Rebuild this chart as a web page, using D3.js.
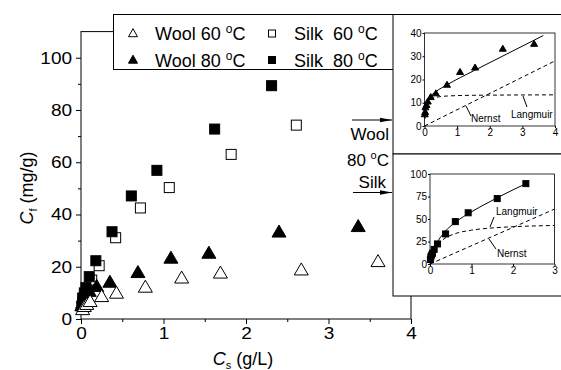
<!DOCTYPE html>
<html>
<head>
<meta charset="utf-8">
<script src="https://cdn.jsdelivr.net/npm/d3@7"></script>
<style>
  body { margin: 0; background: #fff; }
  svg { display: block; font-family: "Liberation Sans", Arial, sans-serif; }
  .axis path, .axis line { stroke: #000; }
  .axis text { fill: #000; }
</style>
</head>
<body>
<div id="app"></div>
<script>
// ---- data ----
const wool60Cs = [0.02, 0.04, 0.07, 0.11, 0.25, 0.43, 0.78, 1.22, 1.69, 2.67, 3.6];
const wool60Cf = [3.5, 4.7, 5.5, 6.6, 8.5, 9.8, 12.1, 15.6, 17.5, 18.7, 21.9];
const wool80Cs = [0.01, 0.02, 0.03, 0.06, 0.1, 0.19, 0.35, 0.69, 1.09, 1.55, 2.4, 3.36];
const wool80Cf = [5, 6, 8, 9, 10.5, 12.4, 14.0, 17.7, 23.2, 25.1, 33.2, 35.3];
const silk60Cs = [0.02, 0.04, 0.07, 0.13, 0.22, 0.42, 0.72, 1.07, 1.82, 2.61];
const silk60Cf = [6, 8, 11, 14.9, 20.4, 31.1, 42.5, 50.3, 63, 74.2];
const silk80Cs = [0.01, 0.02, 0.04, 0.06, 0.1, 0.18, 0.376, 0.61, 0.92, 1.62, 2.31];
const silk80Cf = [5, 8, 10, 12, 16.2, 22.3, 33.4, 47.1, 56.9, 72.7, 89.3];

// fitted curves in the insets
const woolFitCs = [0.01, 0.03, 0.06, 0.1, 0.2, 0.35, 0.7, 1.5, 2.5, 3.64];
const woolFitCf = [3.2, 6.6, 9.1, 10.8, 13, 14.8, 17.8, 23.7, 30.8, 38.9];
const woolLangCs = [0.01, 0.03, 0.06, 0.1, 0.2, 0.35, 0.7, 1.5, 4];
const woolLangCf = [3, 6.4, 8.7, 10, 11.6, 12.3, 12.9, 13.2, 13.4];
const woolNernstCs = [0, 4];
const woolNernstCf = [0, 28];
const silkFitCs = [0, 0.05, 0.1, 0.2, 0.36, 0.6, 1, 1.4, 2, 2.3];
const silkFitCf = [0, 9.4, 16.3, 25.9, 36, 45.9, 58, 68.2, 82.4, 89];
const silkLangCs = [0, 0.05, 0.1, 0.2, 0.36, 0.6, 1, 1.4, 2, 3];
const silkLangCf = [0, 8.4, 14.3, 21.8, 28.6, 33.6, 37.6, 39.7, 41.4, 42.8];
const silkNernstCs = [0, 3];
const silkNernstCf = [0, 61];

const mainXTicks = [0, 1, 2, 3, 4];
const mainYTicks = [0, 20, 40, 60, 80, 100];
const inset1XTicks = [0, 1, 2, 3, 4];
const inset1YTicks = [0, 10, 20, 30, 40];
const inset2XTicks = [0, 1, 2, 3];
const inset2YTicks = [0, 25, 50, 75, 100];

const zip = (a, b) => a.map((v, i) => [v, b[i]]);

const svg = d3.select("#app").append("svg").attr("width", 561).attr("height", 370);

// ---- main plot ----
const x = d3.scaleLinear().domain([0, 4]).range([81, 411]);
const y = d3.scaleLinear().domain([0, 110]).range([319, 31.6]);

const main = svg.append("g");

main.append("rect")
  .attr("x", x(0)).attr("y", y(110))
  .attr("width", x(4) - x(0)).attr("height", y(0) - y(110))
  .attr("fill", "none").attr("stroke", "#000");

// minor ticks
main.append("g").attr("class", "axis")
  .attr("transform", `translate(0,${y(0)})`)
  .call(d3.axisBottom(x).tickValues(d3.range(0.5, 4, 1)).tickSize(3).tickFormat(""))
  .select(".domain").remove();
main.append("g").attr("class", "axis")
  .attr("transform", `translate(${x(0)},0)`)
  .call(d3.axisLeft(y).tickValues(d3.range(10, 110, 20)).tickSize(3).tickFormat(""))
  .select(".domain").remove();

const xAxis = main.append("g").attr("class", "axis")
  .attr("transform", `translate(0,${y(0)})`)
  .call(d3.axisBottom(x).tickValues(mainXTicks).tickSize(5).tickPadding(3).tickFormat(d3.format("d")));
xAxis.selectAll("text").attr("font-size", 17).attr("transform", "scale(1.12,1)");
xAxis.select(".domain").remove();

const yAxis = main.append("g").attr("class", "axis")
  .attr("transform", `translate(${x(0)},0)`)
  .call(d3.axisLeft(y).tickValues(mainYTicks).tickSize(5).tickPadding(3).tickFormat(d3.format("d")));
yAxis.selectAll("text").attr("font-size", 17).attr("transform", "scale(1.12,1)");
yAxis.select(".domain").remove();

// axis titles
const yt = main.append("text")
  .attr("transform", "translate(33,188) rotate(-90)")
  .attr("text-anchor", "middle").attr("font-size", 18);
yt.append("tspan").attr("font-style", "italic").text("C");
yt.append("tspan").attr("font-size", 11).attr("dy", 4).text("f");
yt.append("tspan").attr("dy", -4).text(" (mg/g)");

const xt = main.append("text")
  .attr("x", 243).attr("y", 365)
  .attr("text-anchor", "middle").attr("font-size", 18);
xt.append("tspan").attr("font-style", "italic").text("C");
xt.append("tspan").attr("font-size", 11).attr("dy", 4).text("s");
xt.append("tspan").attr("dy", -4).text(" (g/L)");

const tri = (cx, cy, w, h) =>
  `M${cx},${cy - h * 0.6}L${cx + w / 2},${cy + h * 0.4}L${cx - w / 2},${cy + h * 0.4}Z`;

function squares(g, xs, ys, data, size, filled) {
  g.selectAll(null).data(data).enter().append("rect")
    .attr("x", d => xs(d[0]) - size / 2).attr("y", d => ys(d[1]) - size / 2)
    .attr("width", size).attr("height", size)
    .attr("fill", filled ? "#000" : "#fff").attr("stroke", "#000").attr("stroke-width", 1);
}
function triangles(g, xs, ys, data, w, h, filled) {
  g.selectAll(null).data(data).enter().append("path")
    .attr("d", d => tri(xs(d[0]), ys(d[1]), w, h))
    .attr("fill", filled ? "#000" : "#fff").attr("stroke", "#000").attr("stroke-width", 1);
}

const marks = main.append("g");
squares(marks, x, y, zip(silk60Cs, silk60Cf), 10, false);
squares(marks, x, y, zip(silk80Cs, silk80Cf), 10, true);
triangles(marks, x, y, zip(wool80Cs, wool80Cf), 14, 12, true);
triangles(marks, x, y, zip(wool60Cs, wool60Cf), 14, 12, false);

// ---- legend ----
const legend = svg.append("g");
legend.append("rect")
  .attr("x", 113.5).attr("y", 14.5).attr("width", 280).attr("height", 55)
  .attr("fill", "#fff").attr("stroke", "#000");
const legendItems = [
  { name: "Wool 60 ", shape: "tri", filled: false, lx: 133, ly: 33.5 },
  { name: "Silk  60 ", shape: "sq", filled: false, lx: 272, ly: 33.5 },
  { name: "Wool 80 ", shape: "tri", filled: true, lx: 133, ly: 60 },
  { name: "Silk  80 ", shape: "sq", filled: true, lx: 272, ly: 60 }
];
legendItems.forEach(it => {
  if (it.shape === "tri") {
    legend.append("path").attr("d", tri(it.lx, it.ly, 9, 8))
      .attr("fill", it.filled ? "#000" : "#fff").attr("stroke", "#000");
  } else {
    legend.append("rect").attr("x", it.lx - 3.5).attr("y", it.ly - 3.5)
      .attr("width", 7).attr("height", 7)
      .attr("fill", it.filled ? "#000" : "#fff").attr("stroke", "#000");
  }
  const t = legend.append("text").attr("x", it.lx + 22).attr("y", it.ly + 6.5)
    .attr("font-size", 18).attr("xml:space", "preserve").style("white-space", "pre");
  t.append("tspan").text(it.name);
  t.append("tspan").attr("font-size", 12).attr("dy", -7).text("o");
  t.append("tspan").attr("dy", 7).text("C");
});

// ---- inset boxes ----
svg.append("rect").attr("x", 393).attr("y", 14.5).attr("width", 180).attr("height", 139.5)
  .attr("fill", "#fff").attr("stroke", "#000");
svg.append("rect").attr("x", 393).attr("y", 154).attr("width", 180).attr("height", 142)
  .attr("fill", "#fff").attr("stroke", "#000");

// arrows and labels between main plot and insets
const defs = svg.append("defs");
defs.append("marker").attr("id", "head").attr("viewBox", "0 0 12 6")
  .attr("refX", 12).attr("refY", 3).attr("markerWidth", 12).attr("markerHeight", 6)
  .attr("markerUnits", "userSpaceOnUse").attr("orient", "auto")
  .append("path").attr("d", "M0,0.8L12,3L0,5.2Z").attr("fill", "#000");
[[352, 120], [353, 192.5]].forEach(([ax, ay]) => {
  svg.append("line").attr("x1", ax).attr("y1", ay).attr("x2", 392).attr("y2", ay)
    .attr("stroke", "#000").attr("stroke-width", 1.2).attr("marker-end", "url(#head)");
});
svg.append("text").attr("x", 389).attr("y", 140).attr("text-anchor", "end")
  .attr("font-size", 17).text("Wool");
const t80 = svg.append("text").attr("x", 389).attr("y", 166).attr("text-anchor", "end")
  .attr("font-size", 17).style("white-space", "pre");
t80.append("tspan").text("80 ");
t80.append("tspan").attr("font-size", 11).attr("dy", -7).text("o");
t80.append("tspan").attr("dy", 7).text("C");
svg.append("text").attr("x", 386).attr("y", 188).attr("text-anchor", "end")
  .attr("font-size", 17).text("Silk");

// ---- inset plots ----
const line = (xs, ys) => d3.line().x(d => xs(d[0])).y(d => ys(d[1])).curve(d3.curveMonotoneX);

function inset(x0, x1, y0, y1, xd, yd, xt, yt) {
  const xs = d3.scaleLinear().domain(xd).range([x0, x1]);
  const ys = d3.scaleLinear().domain(yd).range([y0, y1]);
  const g = svg.append("g");
  g.append("rect").attr("x", x0).attr("y", y1).attr("width", x1 - x0).attr("height", y0 - y1)
    .attr("fill", "none").attr("stroke", "#000").attr("stroke-width", 0.8);
  const ax = g.append("g").attr("class", "axis").attr("transform", `translate(0,${y0})`)
    .call(d3.axisBottom(xs).tickValues(xt).tickSize(2).tickPadding(1).tickFormat(d3.format("d")));
  ax.select(".domain").remove();
  ax.selectAll("text").attr("font-size", 10);
  const ay = g.append("g").attr("class", "axis").attr("transform", `translate(${x0},0)`)
    .call(d3.axisLeft(ys).tickValues(yt).tickSize(2).tickPadding(1).tickFormat(d3.format("d")));
  ay.select(".domain").remove();
  ay.selectAll("text").attr("font-size", 10);
  return { g, xs, ys };
}

// inset 1: wool 80 C
const i1 = inset(424.5, 555, 126, 33, [0, 4], [0, 40], inset1XTicks, inset1YTicks);
defs.append("clipPath").attr("id", "c1").append("rect")
  .attr("x", 424.5).attr("y", 33).attr("width", 130.5).attr("height", 93);
const l1 = i1.g.append("g").attr("clip-path", "url(#c1)");
l1.append("path").attr("d", line(i1.xs, i1.ys)(zip(woolLangCs, woolLangCf)))
  .attr("fill", "none").attr("stroke", "#000").attr("stroke-dasharray", "4,3");
l1.append("path").attr("d", line(i1.xs, i1.ys)(zip(woolNernstCs, woolNernstCf)))
  .attr("fill", "none").attr("stroke", "#000").attr("stroke-dasharray", "4,3");
l1.append("path").attr("d", line(i1.xs, i1.ys)(zip(woolFitCs, woolFitCf)))
  .attr("fill", "none").attr("stroke", "#000");
triangles(i1.g, i1.xs, i1.ys, zip(wool80Cs, wool80Cf), 7, 6, true);
i1.g.append("line").attr("x1", 466).attr("y1", 106).attr("x2", 471).attr("y2", 116).attr("stroke", "#000");
i1.g.append("text").attr("x", 471).attr("y", 122).attr("font-size", 10).text("Nernst");
i1.g.append("line").attr("x1", 523).attr("y1", 96).attr("x2", 527).attr("y2", 107).attr("stroke", "#000");
i1.g.append("text").attr("x", 511).attr("y", 118).attr("font-size", 10).text("Langmuir");

// inset 2: silk 80 C
const i2 = inset(430, 554.5, 264, 174, [0, 3], [0, 100], inset2XTicks, inset2YTicks);
defs.append("clipPath").attr("id", "c2").append("rect")
  .attr("x", 430).attr("y", 174).attr("width", 124.5).attr("height", 90);
const l2 = i2.g.append("g").attr("clip-path", "url(#c2)");
l2.append("path").attr("d", line(i2.xs, i2.ys)(zip(silkLangCs, silkLangCf)))
  .attr("fill", "none").attr("stroke", "#000").attr("stroke-dasharray", "4,3");
l2.append("path").attr("d", line(i2.xs, i2.ys)(zip(silkNernstCs, silkNernstCf)))
  .attr("fill", "none").attr("stroke", "#000").attr("stroke-dasharray", "4,3");
l2.append("path").attr("d", line(i2.xs, i2.ys)(zip(silkFitCs, silkFitCf)))
  .attr("fill", "none").attr("stroke", "#000");
squares(i2.g, i2.xs, i2.ys, zip(silk80Cs, silk80Cf), 6, true);
i2.g.append("line").attr("x1", 490).attr("y1", 227).attr("x2", 494).attr("y2", 217).attr("stroke", "#000");
i2.g.append("text").attr("x", 496).attr("y", 215).attr("font-size", 10).text("Langmuir");
i2.g.append("line").attr("x1", 489).attr("y1", 239).attr("x2", 496).attr("y2", 249).attr("stroke", "#000");
i2.g.append("text").attr("x", 497).attr("y", 257).attr("font-size", 10).text("Nernst");
</script>
</body>
</html>
